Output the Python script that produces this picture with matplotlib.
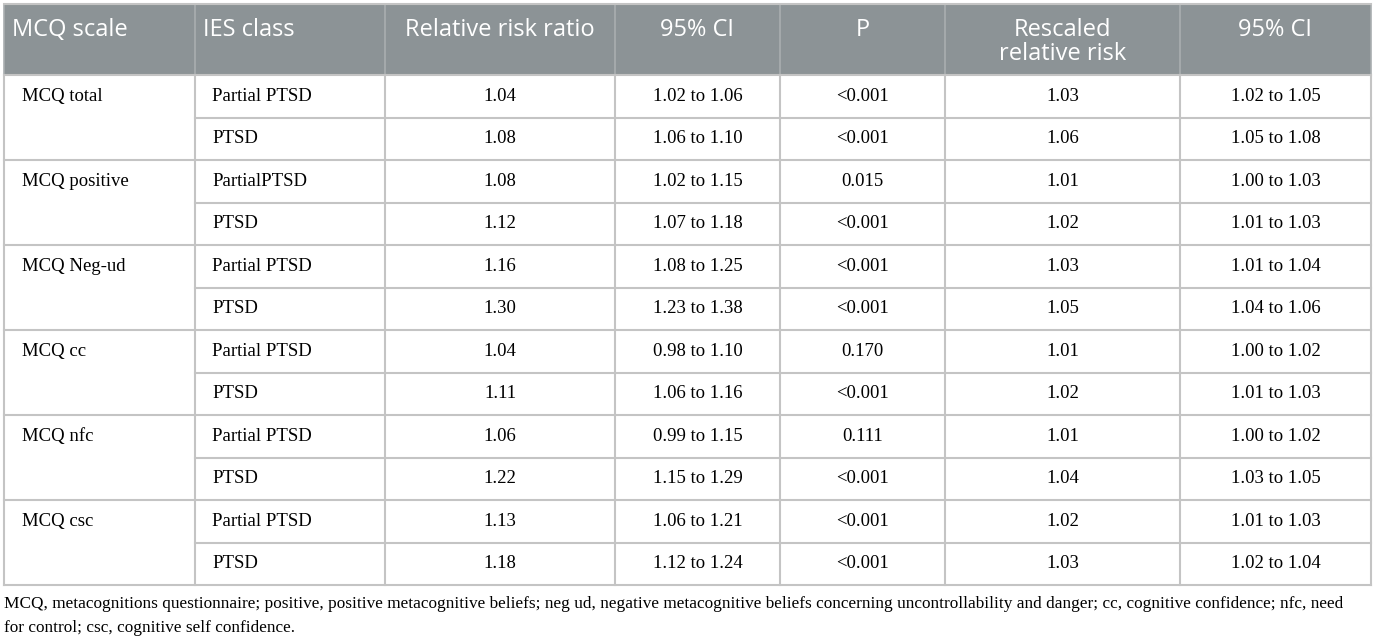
import matplotlib
matplotlib.use('Agg')
import matplotlib.pyplot as plt
from matplotlib.patches import Rectangle

### table content ##############################################################
headers = ['MCQ scale', 'IES class', 'Relative risk ratio', '95% CI', 'P',
           'Rescaled\nrelative risk', '95% CI']
scales = ['MCQ total', 'MCQ positive', 'MCQ Neg-ud', 'MCQ cc', 'MCQ nfc', 'MCQ csc']
ies_class = ['Partial PTSD', 'PTSD', 'PartialPTSD', 'PTSD', 'Partial PTSD', 'PTSD',
             'Partial PTSD', 'PTSD', 'Partial PTSD', 'PTSD', 'Partial PTSD', 'PTSD']
rrr = ['1.04', '1.08', '1.08', '1.12', '1.16', '1.30', '1.04', '1.11', '1.06', '1.22', '1.13', '1.18']
ci_rrr = ['1.02 to 1.06', '1.06 to 1.10', '1.02 to 1.15', '1.07 to 1.18', '1.08 to 1.25',
          '1.23 to 1.38', '0.98 to 1.10', '1.06 to 1.16', '0.99 to 1.15', '1.15 to 1.29',
          '1.06 to 1.21', '1.12 to 1.24']
p_vals = ['<0.001', '<0.001', '0.015', '<0.001', '<0.001', '<0.001', '0.170', '<0.001',
          '0.111', '<0.001', '<0.001', '<0.001']
rescaled = ['1.03', '1.06', '1.01', '1.02', '1.03', '1.05', '1.01', '1.02', '1.01', '1.04', '1.02', '1.03']
ci_rescaled = ['1.02 to 1.05', '1.05 to 1.08', '1.00 to 1.03', '1.01 to 1.03', '1.01 to 1.04',
               '1.04 to 1.06', '1.00 to 1.02', '1.01 to 1.03', '1.00 to 1.02', '1.03 to 1.05',
               '1.01 to 1.03', '1.02 to 1.04']
footnote = ['MCQ, metacognitions questionnaire; positive, positive metacognitive beliefs; neg ud, '
            'negative metacognitive beliefs concerning uncontrollability and danger; cc, cognitive confidence; nfc, need',
            'for control; csc, cognitive self confidence.']

### layout (pixels) ############################################################
W, H = 1375, 642
col_edges = [4, 195, 385, 615, 780, 945, 1180, 1371]
head_top, head_bot = 4, 75
row_h = 42.5
header_bg = '#8c9396'
line_col = '#c4c4c4'
serif = ['Liberation Serif', 'DejaVu Serif']
sans = ['Open Sans', 'DejaVu Sans']

fig = plt.figure(figsize=(W / 100, H / 100), dpi=100)
ax = fig.add_axes([0, 0, 1, 1])
ax.set_xlim(0, W)
ax.set_ylim(H, 0)
ax.axis('off')

n_rows = len(ies_class)
table_bot = head_bot + n_rows * row_h

# header
ax.add_patch(Rectangle((col_edges[0], head_top), col_edges[-1] - col_edges[0],
                       head_bot - head_top, color=header_bg, lw=0))
for j, h in enumerate(headers):
    if j < 2:
        ax.text(col_edges[j] + 8, head_top + 14, h, color='white', fontsize=17,
                family=sans, ha='left', va='top', linespacing=0.98)
    else:
        ax.text((col_edges[j] + col_edges[j + 1]) / 2, head_top + 14, h, color='white',
                fontsize=17, family=sans, ha='center', va='top', linespacing=0.98)

# grid lines
for x in col_edges:
    ax.plot([x, x], [head_top, head_bot], color='#a9aeb0', lw=1.2)
    ax.plot([x, x], [head_bot, table_bot], color=line_col, lw=1.5)
ax.plot([col_edges[0], col_edges[-1]], [head_top, head_top], color=line_col, lw=1.5)
for i in range(n_rows + 1):
    y = head_bot + i * row_h
    x0 = col_edges[0] if i % 2 == 0 else col_edges[1]
    ax.plot([x0, col_edges[-1]], [y, y], color=line_col, lw=1.5)

# body
columns = [ies_class, rrr, ci_rrr, p_vals, rescaled, ci_rescaled]
for g, s in enumerate(scales):
    yc = head_bot + (2 * g + 0.5) * row_h
    ax.text(col_edges[0] + 18, yc, s, fontsize=13.5, family=serif, ha='left', va='center')
for i in range(n_rows):
    yc = head_bot + (i + 0.5) * row_h
    for j, col in enumerate(columns, start=1):
        if j == 1:
            ax.text(col_edges[1] + 17, yc, col[i], fontsize=13.5, family=serif,
                    ha='left', va='center')
        else:
            ax.text((col_edges[j] + col_edges[j + 1]) / 2, yc, col[i], fontsize=13.5,
                    family=serif, ha='center', va='center')

# footnote
for k, line in enumerate(footnote):
    ax.text(col_edges[0], 604 + k * 24, line, fontsize=12.4, family=serif,
            ha='left', va='center')

fig.savefig('out.png', dpi=100)
